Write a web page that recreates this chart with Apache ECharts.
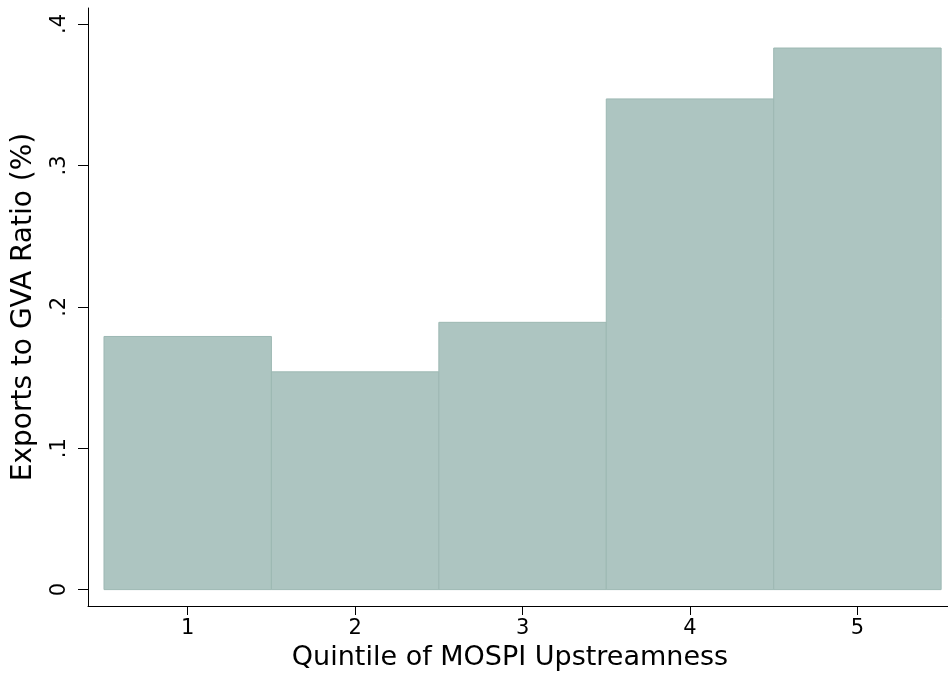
<!DOCTYPE html>
<html>
<head>
<meta charset="utf-8">
<script src="https://cdn.jsdelivr.net/npm/echarts@6/dist/echarts.min.js"></script>
<style>
html,body{margin:0;padding:0;background:#fff;}
#chart{width:948px;height:683px;}
</style>
</head>
<body>
<div id="chart"></div>
<script>
const quintiles = [1, 2, 3, 4, 5];
const exportRatio = [0.179, 0.154, 0.189, 0.347, 0.383];
const yTicks = [0, 0.1, 0.2, 0.3, 0.4];
const yTickLabels = ['0', '.1', '.2', '.3', '.4'];
const xTickLabels = ['1', '2', '3', '4', '5'];

const FONT = 'DejaVu Sans';
const chart = echarts.init(document.getElementById('chart'), null, {renderer: 'canvas'});

const data = quintiles.map((q, i) => [q, exportRatio[i]]);

chart.setOption({
  animation: false,
  backgroundColor: '#ffffff',
  grid: {left: 88, right: 0, top: 8, bottom: 77, containLabel: false},
  xAxis: {
    type: 'value',
    min: 0.4045,
    max: 5.541,
    name: 'Quintile of MOSPI Upstreamness',
    nameLocation: 'middle',
    nameGap: 38,
    nameTextStyle: {fontFamily: FONT, fontSize: 27, color: '#000', padding: [0, 16, 0, 0]},
    axisLine: {show: true, onZero: false, lineStyle: {color: '#000', width: 1}},
    axisTick: {show: true, length: 9, customValues: quintiles, lineStyle: {color: '#000', width: 1}},
    axisLabel: {
      customValues: quintiles,
      margin: 12,
      fontFamily: FONT, fontSize: 21, color: '#000',
      formatter: v => xTickLabels[quintiles.indexOf(Math.round(v))] || ''
    },
    splitLine: {show: false}
  },
  yAxis: {
    type: 'value',
    min: -0.0116,
    max: 0.4113,
    name: 'Exports to GVA Ratio (%)',
    nameLocation: 'middle',
    nameGap: 50,
    nameTextStyle: {fontFamily: FONT, fontSize: 28, color: '#000'},
    axisLine: {show: true, onZero: false, lineStyle: {color: '#000', width: 1}},
    axisTick: {show: true, length: 10, customValues: yTicks, lineStyle: {color: '#000', width: 1}},
    axisLabel: {
      customValues: yTicks,
      rotate: 90,
      margin: 18,
      fontFamily: FONT, fontSize: 21, color: '#000',
      formatter: v => {
        const idx = yTicks.findIndex(t => Math.abs(t - v) < 1e-6);
        return idx >= 0 ? yTickLabels[idx] : '';
      }
    },
    splitLine: {show: false}
  },
  series: [{
    type: 'custom',
    data: data,
    encode: {x: 0, y: 1},
    renderItem: function (params, api) {
      const x = api.value(0);
      const y = api.value(1);
      const p1 = api.coord([x - 0.5, y]);
      const p2 = api.coord([x + 0.5, 0]);
      return {
        type: 'rect',
        shape: {x: p1[0], y: p1[1], width: p2[0] - p1[0], height: p2[1] - p1[1]},
        style: {fill: '#adc5c1', stroke: '#9db8b3', lineWidth: 1}
      };
    }
  }]
});
</script>
</body>
</html>
